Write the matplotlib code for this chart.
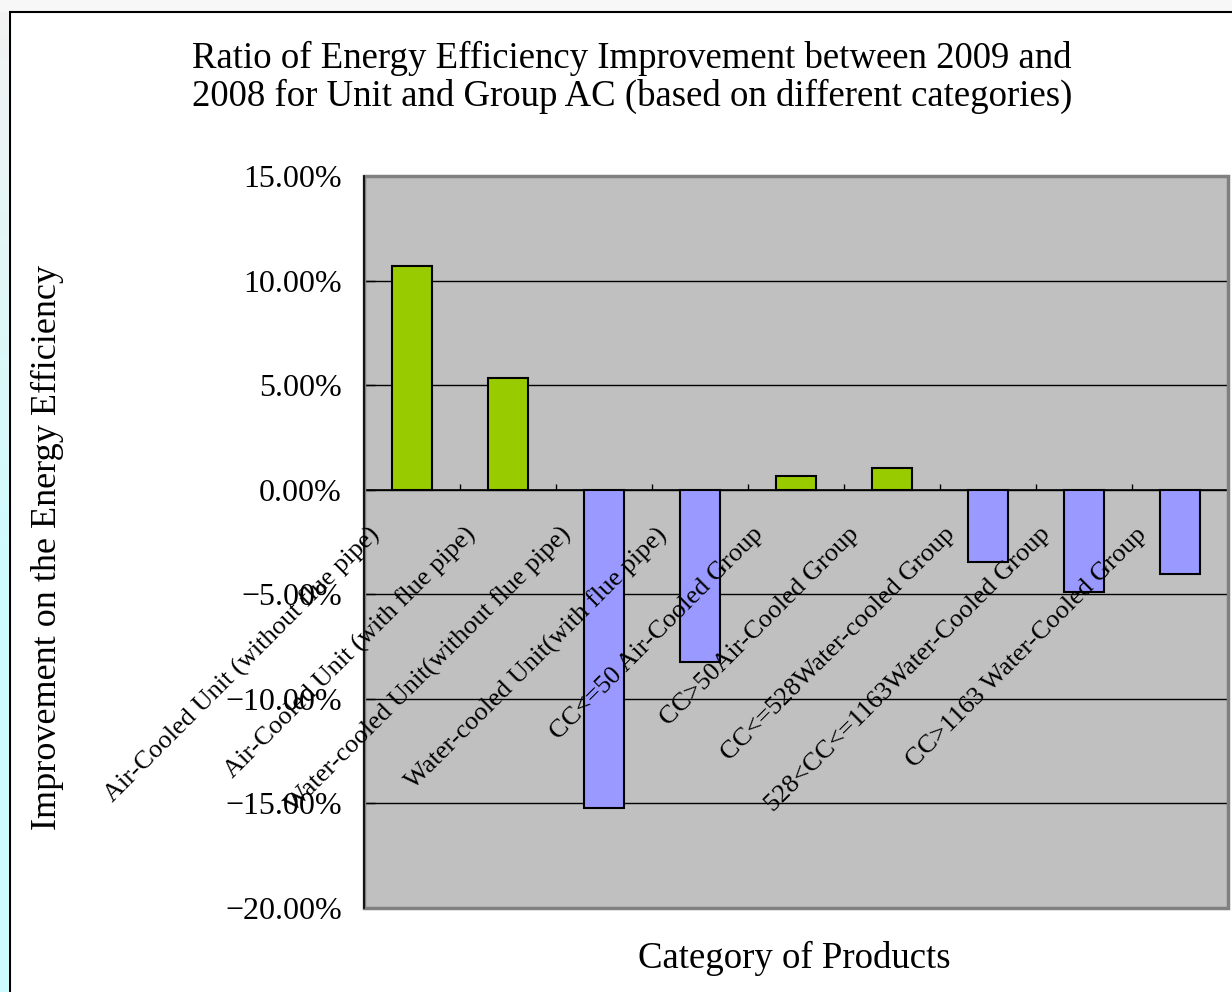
import numpy as np
import matplotlib
matplotlib.use("Agg")
import matplotlib.pyplot as plt
from matplotlib.patches import Rectangle

plt.rcParams['font.family'] = ['Liberation Serif', 'DejaVu Serif']

# data
categories = [
    "Air-Cooled Unit (without flue pipe)",
    "Air-Cooled Unit (with flue pipe)",
    "Water-cooled Unit(without flue pipe)",
    "Water-cooled Unit(with flue pipe)",
    "CC<=50 Air-Cooled Group",
    "CC>50Air-Cooled Group",
    "CC<=528Water-cooled Group",
    "528<CC<=1163Water-Cooled Group",
    "CC>1163 Water-Cooled Group",
]
improvement = [10.72, 5.36, -15.22, -8.23, 0.67, 1.05, -3.45, -4.88, -4.02]
y_ticks = [-20, -15, -10, -5, 0, 5, 10, 15]

title_lines = ["Ratio of Energy Efficiency Improvement between 2009 and",
               "2008 for Unit and Group AC (based on different categories)"]

W, H = 1232, 992
fig = plt.figure(figsize=(W / 100, H / 100), dpi=100)
fig.patch.set_facecolor('#f7f7f7')

# chart frame
fig.patches.append(Rectangle((10 / W, -0.01), 1.1, 1 - 12 / H + 0.01,
                             transform=fig.transFigure, facecolor='white',
                             edgecolor='black', lw=1.5, zorder=-5))

# left strip of the window behind the chart (grey -> light cyan)
strip = fig.add_axes([0, 0, 9 / W, 1 - 12 / H])
grad = np.linspace(0, 1, 256).reshape(-1, 1)
c_top = np.array([0.95, 0.95, 0.95])
c_bot = np.array([0.80, 0.99, 1.0])
img = c_top + (c_bot - c_top) * np.clip(grad * 1.6, 0, 1)[..., None]
strip.imshow(img, aspect='auto', extent=[0, 1, 0, 1])
strip.axis('off')

ax = fig.add_axes([364 / W, 1 - 908 / H, 864 / W, 732 / H])
ax.set_facecolor('#c0c0c0')

x = np.arange(len(categories))
colors = ['#99cc00' if v >= 0 else '#9999ff' for v in improvement]
ax.bar(x, improvement, width=0.41, color=colors, edgecolor='black', lw=1.5, zorder=3)

ax.set_xlim(-0.5, len(categories) - 0.5)
ax.set_ylim(-20, 15)
ax.set_yticks(y_ticks)
ax.set_yticklabels([("%.2f%%" % v).replace('-', '\u2212') for v in y_ticks], fontsize=23)
ax.yaxis.grid(True, color='black', lw=1)
ax.set_axisbelow(True)
ax.tick_params(axis='y', direction='in', length=8, width=1, pad=16)

# category axis sits on the zero line
for s in ['top', 'right']:
    ax.spines[s].set_visible(False)
ax.spines['bottom'].set_position(('data', 0))
ax.spines['bottom'].set_linewidth(1.2)
ax.spines['left'].set_linewidth(1.2)
ax.spines['left'].set_zorder(5)
ax.set_xticks(x[:-1] + 0.5)
ax.set_xticklabels([])
ax.tick_params(axis='x', direction='in', length=4.5, width=1)
ax.add_patch(Rectangle((0, 0), 1, 1, transform=ax.transAxes, facecolor='none',
                       edgecolor='#808080', lw=2.5, zorder=4, clip_on=False))

for i, name in enumerate(categories):
    ax.annotate(name, xy=(i, 0), xytext=(-32, -24), textcoords='offset points',
                rotation=45, rotation_mode='anchor', ha='right', va='top',
                fontsize=19, zorder=6, annotation_clip=False)

fig.text(632 / W, 1 - 58 / H, title_lines[0], ha='center', va='center', fontsize=26.5)
fig.text(632 / W, 1 - 96 / H, title_lines[1], ha='center', va='center', fontsize=26.5)
fig.text(47 / W, 1 - 548 / H, "Improvement on the Energy Efficiency", rotation=90,
         ha='center', va='center', fontsize=26)
fig.text(794 / W, 1 - 958 / H, "Category of Products", ha='center', va='center', fontsize=26.5)

fig.savefig("out.png", dpi=100)
